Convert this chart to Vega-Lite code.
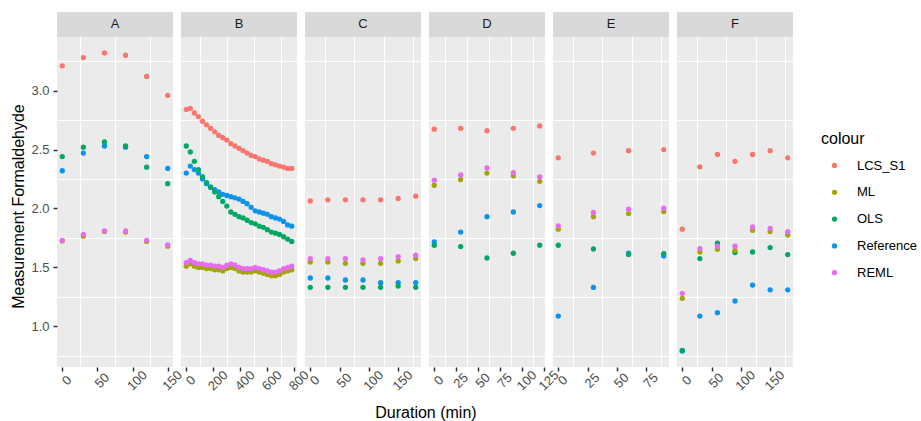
{
  "$schema": "https://vega.github.io/schema/vega-lite/v6.json",
  "padding": {"left": 10, "top": 12, "right": 30, "bottom": 5},
  "background": "white",
  "bounds": "flush",
  "title": {"text": "Duration (min)", "orient": "bottom", "anchor": "middle", "fontSize": 16, "fontWeight": "normal", "color": "#000000", "font": "Liberation Sans", "offset": 12, "dx": -38},
  "datasets": {
    "d": [
      {"panel":"A","method":"LCS_S1","duration":0,"value":3.21},{"panel":"A","method":"LCS_S1","duration":30,"value":3.28},{"panel":"A","method":"LCS_S1","duration":60,"value":3.32},{"panel":"A","method":"LCS_S1","duration":90,"value":3.30},{"panel":"A","method":"LCS_S1","duration":120,"value":3.12},{"panel":"A","method":"LCS_S1","duration":150,"value":2.96},
      {"panel":"A","method":"Reference","duration":0,"value":2.32},{"panel":"A","method":"Reference","duration":30,"value":2.47},{"panel":"A","method":"Reference","duration":60,"value":2.53},{"panel":"A","method":"Reference","duration":90,"value":2.52},{"panel":"A","method":"Reference","duration":120,"value":2.44},{"panel":"A","method":"Reference","duration":150,"value":2.34},
      {"panel":"A","method":"OLS","duration":0,"value":2.44},{"panel":"A","method":"OLS","duration":30,"value":2.52},{"panel":"A","method":"OLS","duration":60,"value":2.565},{"panel":"A","method":"OLS","duration":90,"value":2.53},{"panel":"A","method":"OLS","duration":120,"value":2.35},{"panel":"A","method":"OLS","duration":150,"value":2.21},
      {"panel":"A","method":"ML","duration":0,"value":1.725},{"panel":"A","method":"ML","duration":30,"value":1.765},{"panel":"A","method":"ML","duration":60,"value":1.805},{"panel":"A","method":"ML","duration":90,"value":1.80},{"panel":"A","method":"ML","duration":120,"value":1.72},{"panel":"A","method":"ML","duration":150,"value":1.68},
      {"panel":"A","method":"REML","duration":0,"value":1.73},{"panel":"A","method":"REML","duration":30,"value":1.78},{"panel":"A","method":"REML","duration":60,"value":1.81},{"panel":"A","method":"REML","duration":90,"value":1.81},{"panel":"A","method":"REML","duration":120,"value":1.73},{"panel":"A","method":"REML","duration":150,"value":1.69},

      {"panel":"B","method":"LCS_S1","duration":0,"value":2.84},{"panel":"B","method":"LCS_S1","duration":30,"value":2.85},{"panel":"B","method":"LCS_S1","duration":60,"value":2.81},{"panel":"B","method":"LCS_S1","duration":90,"value":2.78},{"panel":"B","method":"LCS_S1","duration":120,"value":2.74},{"panel":"B","method":"LCS_S1","duration":150,"value":2.71},{"panel":"B","method":"LCS_S1","duration":180,"value":2.68},{"panel":"B","method":"LCS_S1","duration":210,"value":2.65},{"panel":"B","method":"LCS_S1","duration":240,"value":2.62},{"panel":"B","method":"LCS_S1","duration":270,"value":2.60},{"panel":"B","method":"LCS_S1","duration":300,"value":2.58},{"panel":"B","method":"LCS_S1","duration":330,"value":2.55},{"panel":"B","method":"LCS_S1","duration":360,"value":2.53},{"panel":"B","method":"LCS_S1","duration":390,"value":2.51},{"panel":"B","method":"LCS_S1","duration":420,"value":2.49},{"panel":"B","method":"LCS_S1","duration":450,"value":2.47},{"panel":"B","method":"LCS_S1","duration":480,"value":2.45},{"panel":"B","method":"LCS_S1","duration":510,"value":2.44},{"panel":"B","method":"LCS_S1","duration":540,"value":2.42},{"panel":"B","method":"LCS_S1","duration":570,"value":2.41},{"panel":"B","method":"LCS_S1","duration":600,"value":2.40},{"panel":"B","method":"LCS_S1","duration":630,"value":2.38},{"panel":"B","method":"LCS_S1","duration":660,"value":2.37},{"panel":"B","method":"LCS_S1","duration":690,"value":2.36},{"panel":"B","method":"LCS_S1","duration":720,"value":2.35},{"panel":"B","method":"LCS_S1","duration":750,"value":2.34},{"panel":"B","method":"LCS_S1","duration":780,"value":2.34},
      {"panel":"B","method":"Reference","duration":0,"value":2.30},{"panel":"B","method":"Reference","duration":30,"value":2.36},{"panel":"B","method":"Reference","duration":60,"value":2.33},{"panel":"B","method":"Reference","duration":90,"value":2.30},{"panel":"B","method":"Reference","duration":120,"value":2.25},{"panel":"B","method":"Reference","duration":150,"value":2.21},{"panel":"B","method":"Reference","duration":180,"value":2.18},{"panel":"B","method":"Reference","duration":210,"value":2.16},{"panel":"B","method":"Reference","duration":240,"value":2.14},{"panel":"B","method":"Reference","duration":270,"value":2.12},{"panel":"B","method":"Reference","duration":300,"value":2.11},{"panel":"B","method":"Reference","duration":330,"value":2.10},{"panel":"B","method":"Reference","duration":360,"value":2.09},{"panel":"B","method":"Reference","duration":390,"value":2.08},{"panel":"B","method":"Reference","duration":420,"value":2.06},{"panel":"B","method":"Reference","duration":450,"value":2.04},{"panel":"B","method":"Reference","duration":480,"value":2.01},{"panel":"B","method":"Reference","duration":510,"value":1.98},{"panel":"B","method":"Reference","duration":540,"value":1.97},{"panel":"B","method":"Reference","duration":570,"value":1.96},{"panel":"B","method":"Reference","duration":600,"value":1.95},{"panel":"B","method":"Reference","duration":630,"value":1.93},{"panel":"B","method":"Reference","duration":660,"value":1.92},{"panel":"B","method":"Reference","duration":690,"value":1.91},{"panel":"B","method":"Reference","duration":720,"value":1.89},{"panel":"B","method":"Reference","duration":750,"value":1.86},{"panel":"B","method":"Reference","duration":780,"value":1.85},
      {"panel":"B","method":"OLS","duration":0,"value":2.53},{"panel":"B","method":"OLS","duration":30,"value":2.48},{"panel":"B","method":"OLS","duration":60,"value":2.40},{"panel":"B","method":"OLS","duration":90,"value":2.33},{"panel":"B","method":"OLS","duration":120,"value":2.27},{"panel":"B","method":"OLS","duration":150,"value":2.22},{"panel":"B","method":"OLS","duration":180,"value":2.18},{"panel":"B","method":"OLS","duration":210,"value":2.14},{"panel":"B","method":"OLS","duration":240,"value":2.10},{"panel":"B","method":"OLS","duration":270,"value":2.06},{"panel":"B","method":"OLS","duration":300,"value":2.02},{"panel":"B","method":"OLS","duration":330,"value":1.97},{"panel":"B","method":"OLS","duration":360,"value":1.95},{"panel":"B","method":"OLS","duration":390,"value":1.93},{"panel":"B","method":"OLS","duration":420,"value":1.92},{"panel":"B","method":"OLS","duration":450,"value":1.90},{"panel":"B","method":"OLS","duration":480,"value":1.88},{"panel":"B","method":"OLS","duration":510,"value":1.87},{"panel":"B","method":"OLS","duration":540,"value":1.85},{"panel":"B","method":"OLS","duration":570,"value":1.84},{"panel":"B","method":"OLS","duration":600,"value":1.82},{"panel":"B","method":"OLS","duration":630,"value":1.80},{"panel":"B","method":"OLS","duration":660,"value":1.79},{"panel":"B","method":"OLS","duration":690,"value":1.78},{"panel":"B","method":"OLS","duration":720,"value":1.76},{"panel":"B","method":"OLS","duration":750,"value":1.74},{"panel":"B","method":"OLS","duration":780,"value":1.72},
      {"panel":"B","method":"ML","duration":0,"value":1.51},{"panel":"B","method":"ML","duration":30,"value":1.53},{"panel":"B","method":"ML","duration":60,"value":1.51},{"panel":"B","method":"ML","duration":90,"value":1.50},{"panel":"B","method":"ML","duration":120,"value":1.50},{"panel":"B","method":"ML","duration":150,"value":1.49},{"panel":"B","method":"ML","duration":180,"value":1.49},{"panel":"B","method":"ML","duration":210,"value":1.48},{"panel":"B","method":"ML","duration":240,"value":1.48},{"panel":"B","method":"ML","duration":270,"value":1.47},{"panel":"B","method":"ML","duration":300,"value":1.49},{"panel":"B","method":"ML","duration":330,"value":1.50},{"panel":"B","method":"ML","duration":360,"value":1.49},{"panel":"B","method":"ML","duration":390,"value":1.47},{"panel":"B","method":"ML","duration":420,"value":1.46},{"panel":"B","method":"ML","duration":450,"value":1.46},{"panel":"B","method":"ML","duration":480,"value":1.46},{"panel":"B","method":"ML","duration":510,"value":1.47},{"panel":"B","method":"ML","duration":540,"value":1.46},{"panel":"B","method":"ML","duration":570,"value":1.45},{"panel":"B","method":"ML","duration":600,"value":1.44},{"panel":"B","method":"ML","duration":630,"value":1.43},{"panel":"B","method":"ML","duration":660,"value":1.43},{"panel":"B","method":"ML","duration":690,"value":1.44},{"panel":"B","method":"ML","duration":720,"value":1.46},{"panel":"B","method":"ML","duration":750,"value":1.47},{"panel":"B","method":"ML","duration":780,"value":1.48},
      {"panel":"B","method":"REML","duration":0,"value":1.54},{"panel":"B","method":"REML","duration":30,"value":1.56},{"panel":"B","method":"REML","duration":60,"value":1.54},{"panel":"B","method":"REML","duration":90,"value":1.53},{"panel":"B","method":"REML","duration":120,"value":1.53},{"panel":"B","method":"REML","duration":150,"value":1.52},{"panel":"B","method":"REML","duration":180,"value":1.52},{"panel":"B","method":"REML","duration":210,"value":1.51},{"panel":"B","method":"REML","duration":240,"value":1.51},{"panel":"B","method":"REML","duration":270,"value":1.50},{"panel":"B","method":"REML","duration":300,"value":1.52},{"panel":"B","method":"REML","duration":330,"value":1.53},{"panel":"B","method":"REML","duration":360,"value":1.52},{"panel":"B","method":"REML","duration":390,"value":1.50},{"panel":"B","method":"REML","duration":420,"value":1.49},{"panel":"B","method":"REML","duration":450,"value":1.49},{"panel":"B","method":"REML","duration":480,"value":1.49},{"panel":"B","method":"REML","duration":510,"value":1.50},{"panel":"B","method":"REML","duration":540,"value":1.49},{"panel":"B","method":"REML","duration":570,"value":1.48},{"panel":"B","method":"REML","duration":600,"value":1.47},{"panel":"B","method":"REML","duration":630,"value":1.46},{"panel":"B","method":"REML","duration":660,"value":1.46},{"panel":"B","method":"REML","duration":690,"value":1.47},{"panel":"B","method":"REML","duration":720,"value":1.49},{"panel":"B","method":"REML","duration":750,"value":1.50},{"panel":"B","method":"REML","duration":780,"value":1.51},

      {"panel":"C","method":"LCS_S1","duration":0,"value":2.064},{"panel":"C","method":"LCS_S1","duration":30,"value":2.073},{"panel":"C","method":"LCS_S1","duration":60,"value":2.073},{"panel":"C","method":"LCS_S1","duration":90,"value":2.073},{"panel":"C","method":"LCS_S1","duration":120,"value":2.073},{"panel":"C","method":"LCS_S1","duration":150,"value":2.085},{"panel":"C","method":"LCS_S1","duration":180,"value":2.104},
      {"panel":"C","method":"Reference","duration":0,"value":1.41},{"panel":"C","method":"Reference","duration":30,"value":1.41},{"panel":"C","method":"Reference","duration":60,"value":1.393},{"panel":"C","method":"Reference","duration":90,"value":1.393},{"panel":"C","method":"Reference","duration":120,"value":1.37},{"panel":"C","method":"Reference","duration":150,"value":1.37},{"panel":"C","method":"Reference","duration":180,"value":1.37},
      {"panel":"C","method":"OLS","duration":0,"value":1.331},{"panel":"C","method":"OLS","duration":30,"value":1.331},{"panel":"C","method":"OLS","duration":60,"value":1.331},{"panel":"C","method":"OLS","duration":90,"value":1.331},{"panel":"C","method":"OLS","duration":120,"value":1.331},{"panel":"C","method":"OLS","duration":150,"value":1.342},{"panel":"C","method":"OLS","duration":180,"value":1.331},
      {"panel":"C","method":"ML","duration":0,"value":1.546},{"panel":"C","method":"ML","duration":30,"value":1.546},{"panel":"C","method":"ML","duration":60,"value":1.535},{"panel":"C","method":"ML","duration":90,"value":1.535},{"panel":"C","method":"ML","duration":120,"value":1.535},{"panel":"C","method":"ML","duration":150,"value":1.555},{"panel":"C","method":"ML","duration":180,"value":1.575},
      {"panel":"C","method":"REML","duration":0,"value":1.575},{"panel":"C","method":"REML","duration":30,"value":1.575},{"panel":"C","method":"REML","duration":60,"value":1.575},{"panel":"C","method":"REML","duration":90,"value":1.563},{"panel":"C","method":"REML","duration":120,"value":1.575},{"panel":"C","method":"REML","duration":150,"value":1.592},{"panel":"C","method":"REML","duration":180,"value":1.603},

      {"panel":"D","method":"LCS_S1","duration":0,"value":2.673},{"panel":"D","method":"LCS_S1","duration":30,"value":2.68},{"panel":"D","method":"LCS_S1","duration":60,"value":2.66},{"panel":"D","method":"LCS_S1","duration":90,"value":2.68},{"panel":"D","method":"LCS_S1","duration":120,"value":2.70},
      {"panel":"D","method":"Reference","duration":0,"value":1.716},{"panel":"D","method":"Reference","duration":30,"value":1.80},{"panel":"D","method":"Reference","duration":60,"value":1.93},{"panel":"D","method":"Reference","duration":90,"value":1.97},{"panel":"D","method":"Reference","duration":120,"value":2.025},
      {"panel":"D","method":"OLS","duration":0,"value":1.688},{"panel":"D","method":"OLS","duration":30,"value":1.677},{"panel":"D","method":"OLS","duration":60,"value":1.58},{"panel":"D","method":"OLS","duration":90,"value":1.62},{"panel":"D","method":"OLS","duration":120,"value":1.688},
      {"panel":"D","method":"ML","duration":0,"value":2.197},{"panel":"D","method":"ML","duration":30,"value":2.245},{"panel":"D","method":"ML","duration":60,"value":2.30},{"panel":"D","method":"ML","duration":90,"value":2.277},{"panel":"D","method":"ML","duration":120,"value":2.23},
      {"panel":"D","method":"REML","duration":0,"value":2.24},{"panel":"D","method":"REML","duration":30,"value":2.285},{"panel":"D","method":"REML","duration":60,"value":2.344},{"panel":"D","method":"REML","duration":90,"value":2.305},{"panel":"D","method":"REML","duration":120,"value":2.268},

      {"panel":"E","method":"LCS_S1","duration":0,"value":2.43},{"panel":"E","method":"LCS_S1","duration":30,"value":2.47},{"panel":"E","method":"LCS_S1","duration":60,"value":2.49},{"panel":"E","method":"LCS_S1","duration":90,"value":2.50},
      {"panel":"E","method":"Reference","duration":0,"value":1.087},{"panel":"E","method":"Reference","duration":30,"value":1.33},{"panel":"E","method":"Reference","duration":60,"value":1.62},{"panel":"E","method":"Reference","duration":90,"value":1.597},
      {"panel":"E","method":"OLS","duration":0,"value":1.688},{"panel":"E","method":"OLS","duration":30,"value":1.657},{"panel":"E","method":"OLS","duration":60,"value":1.61},{"panel":"E","method":"OLS","duration":90,"value":1.617},
      {"panel":"E","method":"ML","duration":0,"value":1.824},{"panel":"E","method":"ML","duration":30,"value":1.93},{"panel":"E","method":"ML","duration":60,"value":1.957},{"panel":"E","method":"ML","duration":90,"value":1.974},
      {"panel":"E","method":"REML","duration":0,"value":1.852},{"panel":"E","method":"REML","duration":30,"value":1.966},{"panel":"E","method":"REML","duration":60,"value":1.994},{"panel":"E","method":"REML","duration":90,"value":2.002},

      {"panel":"F","method":"LCS_S1","duration":0,"value":1.824},{"panel":"F","method":"LCS_S1","duration":30,"value":2.353},{"panel":"F","method":"LCS_S1","duration":60,"value":2.458},{"panel":"F","method":"LCS_S1","duration":90,"value":2.40},{"panel":"F","method":"LCS_S1","duration":120,"value":2.458},{"panel":"F","method":"LCS_S1","duration":150,"value":2.49},{"panel":"F","method":"LCS_S1","duration":180,"value":2.43},
      {"panel":"F","method":"Reference","duration":0,"value":0.79},{"panel":"F","method":"Reference","duration":30,"value":1.087},{"panel":"F","method":"Reference","duration":60,"value":1.116},{"panel":"F","method":"Reference","duration":90,"value":1.215},{"panel":"F","method":"Reference","duration":120,"value":1.35},{"panel":"F","method":"Reference","duration":150,"value":1.31},{"panel":"F","method":"Reference","duration":180,"value":1.31},
      {"panel":"F","method":"OLS","duration":0,"value":0.796},{"panel":"F","method":"OLS","duration":30,"value":1.575},{"panel":"F","method":"OLS","duration":60,"value":1.705},{"panel":"F","method":"OLS","duration":90,"value":1.626},{"panel":"F","method":"OLS","duration":120,"value":1.631},{"panel":"F","method":"OLS","duration":150,"value":1.668},{"panel":"F","method":"OLS","duration":180,"value":1.609},
      {"panel":"F","method":"ML","duration":0,"value":1.238},{"panel":"F","method":"ML","duration":30,"value":1.63},{"panel":"F","method":"ML","duration":60,"value":1.654},{"panel":"F","method":"ML","duration":90,"value":1.645},{"panel":"F","method":"ML","duration":120,"value":1.815},{"panel":"F","method":"ML","duration":150,"value":1.804},{"panel":"F","method":"ML","duration":180,"value":1.775},
      {"panel":"F","method":"REML","duration":0,"value":1.28},{"panel":"F","method":"REML","duration":30,"value":1.66},{"panel":"F","method":"REML","duration":60,"value":1.68},{"panel":"F","method":"REML","duration":90,"value":1.68},{"panel":"F","method":"REML","duration":120,"value":1.843},{"panel":"F","method":"REML","duration":150,"value":1.832},{"panel":"F","method":"REML","duration":180,"value":1.804}
    ]
  },
  "spacing": 8,
  "resolve": {"scale": {"color": "shared"}, "legend": {"color": "shared"}},
  "hconcat": [
    {
      "width": 116, "height": 355,
      "data": {"name": "d"},
      "transform": [{"filter": {"field": "panel", "equal": "A"}}],
      "layer": [
        {"transform": [{"aggregate": [{"op": "count", "as": "n"}], "groupby": ["panel"]}],
         "mark": {"type": "rect", "fill": "#D9D9D9"},
         "encoding": {
           "x": {"datum": -7.5, "type": "quantitative", "scale": {"domain": [-7.5, 157.5], "nice": false, "zero": false}, "axis": {"orient": "top", "values": [25, 75, 125], "grid": true, "gridWidth": 1, "labels": false, "ticks": false, "domain": false, "title": null}},
           "x2": {"datum": 157.5},
           "y": {"datum": 3.455, "type": "quantitative", "scale": {"domain": [0.655, 3.667], "nice": false, "zero": false}, "axis": {"orient": "right", "values": [0.75, 1.25, 1.75, 2.25, 2.75, 3.25], "grid": true, "gridWidth": 1, "labels": false, "ticks": false, "domain": false, "title": null}},
           "y2": {"datum": 3.667}}},
        {"transform": [{"aggregate": [{"op": "count", "as": "n"}], "groupby": ["panel"]}],
         "mark": {"type": "text", "fontSize": 13, "color": "#1A1A1A"},
         "encoding": {"x": {"datum": 75, "type": "quantitative", "axis": null}, "y": {"datum": 3.561, "type": "quantitative", "axis": null}, "text": {"field": "panel"}}},
        {"mark": {"type": "circle", "size": 28, "opacity": 1},
         "encoding": {
           "x": {"field": "duration", "type": "quantitative", "scale": {"domain": [-7.5, 157.5], "nice": false, "zero": false}, "axis": {"orient": "bottom", "values": [0, 50, 100, 150], "title": null}},
           "y": {"field": "value", "type": "quantitative", "scale": {"domain": [0.655, 3.667], "nice": false, "zero": false}, "axis": {"orient": "left", "values": [1, 1.5, 2, 2.5, 3], "format": ".1f", "title": "Measurement Formaldehyde", "titleY": 194}},
           "color": {"field": "method", "type": "nominal", "scale": {"domain": ["LCS_S1", "ML", "OLS", "Reference", "REML"], "range": ["#F8766D", "#A3A500", "#00A864", "#0A94EC", "#E76BF3"]}, "legend": {"title": "colour", "orient": "none", "legendX": 764, "legendY": 119}}}}
      ],
      "resolve": {"axis": {"x": "independent", "y": "independent"}}
    },
    {
      "width": 116, "height": 355,
      "data": {"name": "d"},
      "transform": [{"filter": {"field": "panel", "equal": "B"}}],
      "layer": [
        {"transform": [{"aggregate": [{"op": "count", "as": "n"}], "groupby": ["panel"]}],
         "mark": {"type": "rect", "fill": "#D9D9D9"},
         "encoding": {
           "x": {"datum": -39, "type": "quantitative", "scale": {"domain": [-39, 819], "nice": false, "zero": false}, "axis": {"orient": "top", "values": [100, 300, 500, 700], "grid": true, "gridWidth": 1, "labels": false, "ticks": false, "domain": false, "title": null}},
           "x2": {"datum": 819},
           "y": {"datum": 3.455, "type": "quantitative", "scale": {"domain": [0.655, 3.667], "nice": false, "zero": false}, "axis": {"orient": "right", "values": [0.75, 1.25, 1.75, 2.25, 2.75, 3.25], "grid": true, "gridWidth": 1, "labels": false, "ticks": false, "domain": false, "title": null}},
           "y2": {"datum": 3.667}}},
        {"transform": [{"aggregate": [{"op": "count", "as": "n"}], "groupby": ["panel"]}],
         "mark": {"type": "text", "fontSize": 13, "color": "#1A1A1A"},
         "encoding": {"x": {"datum": 390, "type": "quantitative", "axis": null}, "y": {"datum": 3.561, "type": "quantitative", "axis": null}, "text": {"field": "panel"}}},
        {"mark": {"type": "circle", "size": 28, "opacity": 1},
         "encoding": {
           "x": {"field": "duration", "type": "quantitative", "scale": {"domain": [-39, 819], "nice": false, "zero": false}, "axis": {"orient": "bottom", "values": [0, 200, 400, 600, 800], "title": null}},
           "y": {"field": "value", "type": "quantitative", "scale": {"domain": [0.655, 3.667], "nice": false, "zero": false}, "axis": {"orient": "left", "values": [1, 1.5, 2, 2.5, 3], "labels": false, "ticks": false, "title": null}},
           "color": {"field": "method", "type": "nominal", "scale": {"domain": ["LCS_S1", "ML", "OLS", "Reference", "REML"], "range": ["#F8766D", "#A3A500", "#00A864", "#0A94EC", "#E76BF3"]}}}}
      ],
      "resolve": {"axis": {"x": "independent", "y": "independent"}}
    },
    {
      "width": 116, "height": 355,
      "data": {"name": "d"},
      "transform": [{"filter": {"field": "panel", "equal": "C"}}],
      "layer": [
        {"transform": [{"aggregate": [{"op": "count", "as": "n"}], "groupby": ["panel"]}],
         "mark": {"type": "rect", "fill": "#D9D9D9"},
         "encoding": {
           "x": {"datum": -9, "type": "quantitative", "scale": {"domain": [-9, 189], "nice": false, "zero": false}, "axis": {"orient": "top", "values": [25, 75, 125, 175], "grid": true, "gridWidth": 1, "labels": false, "ticks": false, "domain": false, "title": null}},
           "x2": {"datum": 189},
           "y": {"datum": 3.455, "type": "quantitative", "scale": {"domain": [0.655, 3.667], "nice": false, "zero": false}, "axis": {"orient": "right", "values": [0.75, 1.25, 1.75, 2.25, 2.75, 3.25], "grid": true, "gridWidth": 1, "labels": false, "ticks": false, "domain": false, "title": null}},
           "y2": {"datum": 3.667}}},
        {"transform": [{"aggregate": [{"op": "count", "as": "n"}], "groupby": ["panel"]}],
         "mark": {"type": "text", "fontSize": 13, "color": "#1A1A1A"},
         "encoding": {"x": {"datum": 90, "type": "quantitative", "axis": null}, "y": {"datum": 3.561, "type": "quantitative", "axis": null}, "text": {"field": "panel"}}},
        {"mark": {"type": "circle", "size": 28, "opacity": 1},
         "encoding": {
           "x": {"field": "duration", "type": "quantitative", "scale": {"domain": [-9, 189], "nice": false, "zero": false}, "axis": {"orient": "bottom", "values": [0, 50, 100, 150], "title": null}},
           "y": {"field": "value", "type": "quantitative", "scale": {"domain": [0.655, 3.667], "nice": false, "zero": false}, "axis": {"orient": "left", "values": [1, 1.5, 2, 2.5, 3], "labels": false, "ticks": false, "title": null}},
           "color": {"field": "method", "type": "nominal", "scale": {"domain": ["LCS_S1", "ML", "OLS", "Reference", "REML"], "range": ["#F8766D", "#A3A500", "#00A864", "#0A94EC", "#E76BF3"]}}}}
      ],
      "resolve": {"axis": {"x": "independent", "y": "independent"}}
    },
    {
      "width": 116, "height": 355,
      "data": {"name": "d"},
      "transform": [{"filter": {"field": "panel", "equal": "D"}}],
      "layer": [
        {"transform": [{"aggregate": [{"op": "count", "as": "n"}], "groupby": ["panel"]}],
         "mark": {"type": "rect", "fill": "#D9D9D9"},
         "encoding": {
           "x": {"datum": -6, "type": "quantitative", "scale": {"domain": [-6, 126], "nice": false, "zero": false}, "axis": {"orient": "top", "values": [12.5, 37.5, 62.5, 87.5, 112.5], "grid": true, "gridWidth": 1, "labels": false, "ticks": false, "domain": false, "title": null}},
           "x2": {"datum": 126},
           "y": {"datum": 3.455, "type": "quantitative", "scale": {"domain": [0.655, 3.667], "nice": false, "zero": false}, "axis": {"orient": "right", "values": [0.75, 1.25, 1.75, 2.25, 2.75, 3.25], "grid": true, "gridWidth": 1, "labels": false, "ticks": false, "domain": false, "title": null}},
           "y2": {"datum": 3.667}}},
        {"transform": [{"aggregate": [{"op": "count", "as": "n"}], "groupby": ["panel"]}],
         "mark": {"type": "text", "fontSize": 13, "color": "#1A1A1A"},
         "encoding": {"x": {"datum": 60, "type": "quantitative", "axis": null}, "y": {"datum": 3.561, "type": "quantitative", "axis": null}, "text": {"field": "panel"}}},
        {"mark": {"type": "circle", "size": 28, "opacity": 1},
         "encoding": {
           "x": {"field": "duration", "type": "quantitative", "scale": {"domain": [-6, 126], "nice": false, "zero": false}, "axis": {"orient": "bottom", "values": [0, 25, 50, 75, 100, 125], "title": null}},
           "y": {"field": "value", "type": "quantitative", "scale": {"domain": [0.655, 3.667], "nice": false, "zero": false}, "axis": {"orient": "left", "values": [1, 1.5, 2, 2.5, 3], "labels": false, "ticks": false, "title": null}},
           "color": {"field": "method", "type": "nominal", "scale": {"domain": ["LCS_S1", "ML", "OLS", "Reference", "REML"], "range": ["#F8766D", "#A3A500", "#00A864", "#0A94EC", "#E76BF3"]}}}}
      ],
      "resolve": {"axis": {"x": "independent", "y": "independent"}}
    },
    {
      "width": 116, "height": 355,
      "data": {"name": "d"},
      "transform": [{"filter": {"field": "panel", "equal": "E"}}],
      "layer": [
        {"transform": [{"aggregate": [{"op": "count", "as": "n"}], "groupby": ["panel"]}],
         "mark": {"type": "rect", "fill": "#D9D9D9"},
         "encoding": {
           "x": {"datum": -4.5, "type": "quantitative", "scale": {"domain": [-4.5, 94.5], "nice": false, "zero": false}, "axis": {"orient": "top", "values": [12.5, 37.5, 62.5, 87.5], "grid": true, "gridWidth": 1, "labels": false, "ticks": false, "domain": false, "title": null}},
           "x2": {"datum": 94.5},
           "y": {"datum": 3.455, "type": "quantitative", "scale": {"domain": [0.655, 3.667], "nice": false, "zero": false}, "axis": {"orient": "right", "values": [0.75, 1.25, 1.75, 2.25, 2.75, 3.25], "grid": true, "gridWidth": 1, "labels": false, "ticks": false, "domain": false, "title": null}},
           "y2": {"datum": 3.667}}},
        {"transform": [{"aggregate": [{"op": "count", "as": "n"}], "groupby": ["panel"]}],
         "mark": {"type": "text", "fontSize": 13, "color": "#1A1A1A"},
         "encoding": {"x": {"datum": 45, "type": "quantitative", "axis": null}, "y": {"datum": 3.561, "type": "quantitative", "axis": null}, "text": {"field": "panel"}}},
        {"mark": {"type": "circle", "size": 28, "opacity": 1},
         "encoding": {
           "x": {"field": "duration", "type": "quantitative", "scale": {"domain": [-4.5, 94.5], "nice": false, "zero": false}, "axis": {"orient": "bottom", "values": [0, 25, 50, 75], "title": null}},
           "y": {"field": "value", "type": "quantitative", "scale": {"domain": [0.655, 3.667], "nice": false, "zero": false}, "axis": {"orient": "left", "values": [1, 1.5, 2, 2.5, 3], "labels": false, "ticks": false, "title": null}},
           "color": {"field": "method", "type": "nominal", "scale": {"domain": ["LCS_S1", "ML", "OLS", "Reference", "REML"], "range": ["#F8766D", "#A3A500", "#00A864", "#0A94EC", "#E76BF3"]}}}}
      ],
      "resolve": {"axis": {"x": "independent", "y": "independent"}}
    },
    {
      "width": 116, "height": 355,
      "data": {"name": "d"},
      "transform": [{"filter": {"field": "panel", "equal": "F"}}],
      "layer": [
        {"transform": [{"aggregate": [{"op": "count", "as": "n"}], "groupby": ["panel"]}],
         "mark": {"type": "rect", "fill": "#D9D9D9"},
         "encoding": {
           "x": {"datum": -9, "type": "quantitative", "scale": {"domain": [-9, 189], "nice": false, "zero": false}, "axis": {"orient": "top", "values": [25, 75, 125, 175], "grid": true, "gridWidth": 1, "labels": false, "ticks": false, "domain": false, "title": null}},
           "x2": {"datum": 189},
           "y": {"datum": 3.455, "type": "quantitative", "scale": {"domain": [0.655, 3.667], "nice": false, "zero": false}, "axis": {"orient": "right", "values": [0.75, 1.25, 1.75, 2.25, 2.75, 3.25], "grid": true, "gridWidth": 1, "labels": false, "ticks": false, "domain": false, "title": null}},
           "y2": {"datum": 3.667}}},
        {"transform": [{"aggregate": [{"op": "count", "as": "n"}], "groupby": ["panel"]}],
         "mark": {"type": "text", "fontSize": 13, "color": "#1A1A1A"},
         "encoding": {"x": {"datum": 90, "type": "quantitative", "axis": null}, "y": {"datum": 3.561, "type": "quantitative", "axis": null}, "text": {"field": "panel"}}},
        {"mark": {"type": "circle", "size": 28, "opacity": 1},
         "encoding": {
           "x": {"field": "duration", "type": "quantitative", "scale": {"domain": [-9, 189], "nice": false, "zero": false}, "axis": {"orient": "bottom", "values": [0, 50, 100, 150], "title": null}},
           "y": {"field": "value", "type": "quantitative", "scale": {"domain": [0.655, 3.667], "nice": false, "zero": false}, "axis": {"orient": "left", "values": [1, 1.5, 2, 2.5, 3], "labels": false, "ticks": false, "title": null}},
           "color": {"field": "method", "type": "nominal", "scale": {"domain": ["LCS_S1", "ML", "OLS", "Reference", "REML"], "range": ["#F8766D", "#A3A500", "#00A864", "#0A94EC", "#E76BF3"]}}}}
      ],
      "resolve": {"axis": {"x": "independent", "y": "independent"}}
    }
  ],
  "config": {
    "font": "Liberation Sans",
    "view": {"stroke": null, "fill": "#EBEBEB"},
    "axis": {"domain": false, "grid": true, "gridColor": "#FFFFFF", "gridWidth": 2, "gridOpacity": 1, "tickColor": "#333333", "tickSize": 4, "tickWidth": 1.5, "labelColor": "#4D4D4D", "labelFontSize": 13, "labelFont": "Liberation Sans", "labelPadding": 4, "labelFlush": false, "labelOverlap": false, "titleFontSize": 16, "titleFontWeight": "normal", "titleColor": "#000000", "titleFont": "Liberation Sans", "titlePadding": 4},
    "axisX": {"labelAngle": -45, "labelAlign": "center", "labelBaseline": "top", "labelPadding": 5},
    "legend": {"titleFontSize": 16, "titleFontWeight": "normal", "titleColor": "#000000", "titleFont": "Liberation Sans", "titlePadding": 12, "titleAnchor": "start", "titleAlign": "left", "labelFontSize": 13, "labelColor": "#000000", "labelFont": "Liberation Sans", "labelLimit": 200, "symbolType": "circle", "symbolSize": 28, "symbolStrokeWidth": 0, "symbolOpacity": 1, "rowPadding": 12.8, "symbolOffset": 7, "labelOffset": 16, "padding": 0}
  }
}
